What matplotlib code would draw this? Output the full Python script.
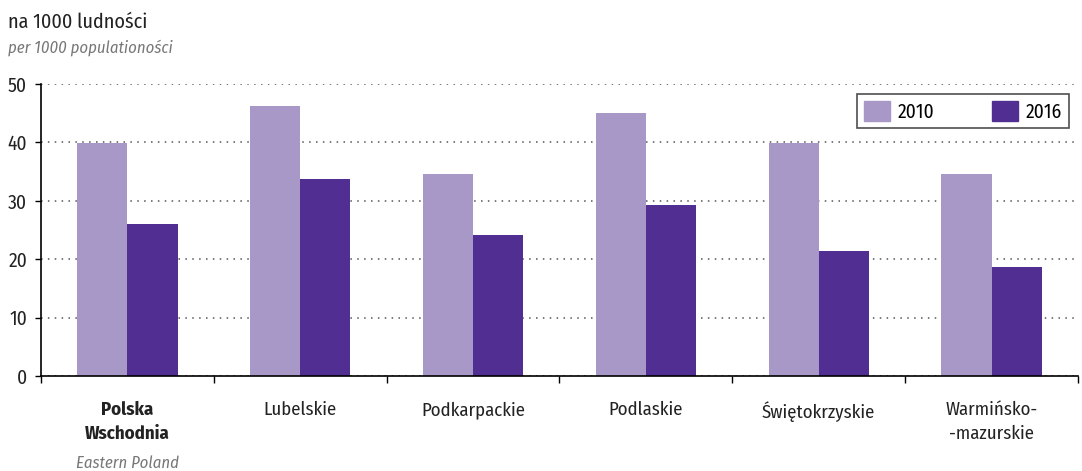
import matplotlib.pyplot as plt
import numpy as np
from matplotlib.patches import Patch

plt.rcParams['font.family'] = ['Fira Sans Condensed', 'DejaVu Sans']

regions = ['Polska\nWschodnia', 'Lubelskie', 'Podkarpackie', 'Podlaskie',
           'Świętokrzyskie', 'Warmińsko-\n-mazurskie']
v2010 = [39.9, 46.3, 34.6, 45.0, 39.9, 34.6]
v2016 = [26.0, 33.7, 24.1, 29.3, 21.4, 18.7]
c2010 = '#a898c8'
c2016 = '#512e91'

fig = plt.figure(figsize=(10.82, 4.71), dpi=100)
ax = fig.add_axes([41/1082, 95/471, 1037/1082, 292/471])

x = np.arange(len(regions))
w = 0.29
ax.bar(x - w/2, v2010, w, color=c2010, zorder=2)
ax.bar(x + w/2, v2016, w, color=c2016, zorder=2)

ax.set_xlim(-0.5, len(regions) - 0.5)
ax.set_ylim(0, 50)
ax.set_yticks([0, 10, 20, 30, 40, 50])
ax.yaxis.grid(True, linestyle=(0, (1, 3.5)), color='#555555', linewidth=1.1, zorder=0)
for s in ['top', 'right']:
    ax.spines[s].set_visible(False)
ax.spines['left'].set_linewidth(1.2)
ax.spines['bottom'].set_linewidth(1.2)
ax.tick_params(axis='y', length=4, width=1, labelsize=14, pad=6, labelcolor='#222222')

ax.set_xticks(np.arange(len(regions) + 1) - 0.5)
ax.set_xticklabels([])
ax.tick_params(axis='x', length=5, width=1)
for i, name in enumerate(regions):
    if i == 0:
        ax.text(i, -4.3, name, ha='center', va='top', fontsize=13.5,
                fontweight='bold', color='#222222', linespacing=1.45)
        ax.text(i, -13.6, 'Eastern Poland', ha='center', va='top', fontsize=12,
                style='italic', color='#777777')
    else:
        ax.text(i, -4.3, name, ha='center', va='top', fontsize=13.5,
                color='#222222', linespacing=1.45)

fig.text(8/1082, 1 - 22/471, 'na 1000 ludności', fontsize=14.5, va='center', color='#222222')
fig.text(8/1082, 1 - 48/471, 'per 1000 populationości', fontsize=12, va='center',
         style='italic', color='#777777')

handles = [Patch(color=c2010, label='2010'), Patch(color=c2016, label='2016')]
leg = ax.legend(handles=handles, loc='upper right', bbox_to_anchor=(0.9965, 0.985),
                ncol=2, fontsize=14, frameon=True, fancybox=False, edgecolor='#222222',
                handlelength=1.3, handleheight=1.2, columnspacing=3.0, borderpad=0.35,
                handletextpad=0.4, borderaxespad=0.3)
leg.get_frame().set_linewidth(1.2)

fig.savefig('out.png', dpi=100)
